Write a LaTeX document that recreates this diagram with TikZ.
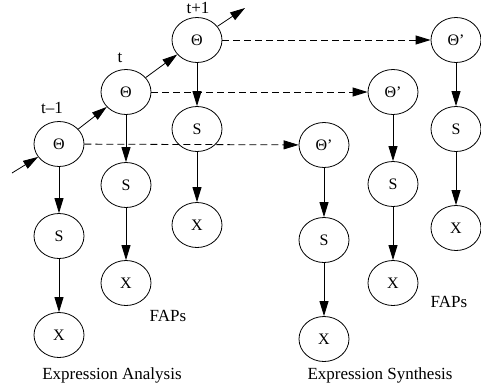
\documentclass[tikz,border=0pt]{standalone}
\usepackage{fontspec}
\setmainfont{Liberation Serif}
\usetikzlibrary{shapes.geometric,arrows.meta}
\begin{document}
\begin{tikzpicture}[x=1pt,y=-1pt,
  var/.style={draw,ellipse,line width=0.8pt,minimum width=50pt,minimum height=45pt,inner sep=0pt,
    font=\fontsize{16}{18}\selectfont},
  lbl/.style={font=\fontsize{17}{19}\selectfont,inner sep=0pt},
  arr/.style={line width=0.8pt,-{Triangle[length=15pt,width=9pt]}},
  darr/.style={arr,dash pattern=on 7pt off 4pt}]
\useasboundingbox (0,0) rectangle (481,389);

% Analysis side: three time slices
\node[var] (th1) at (59,144) {Θ};
\node[var] (s1)  at (59,236) {S};
\node[var] (x1)  at (59,335) {X};
\node[var] (th2) at (126,92) {Θ};
\node[var] (s2)  at (126,185) {S};
\node[var] (x2)  at (126,283) {X};
\node[var] (th3) at (197,40) {Θ};
\node[var] (s3)  at (197,129) {S};
\node[var] (x3)  at (197,225) {X};

% Synthesis side
\node[var] (tp1) at (324,145) {Θ’};
\node[var] (sp1) at (324,240) {S};
\node[var] (xp1) at (324,339) {X};
\node[var] (tp2) at (393,92) {Θ’};
\node[var] (sp2) at (393,184) {S};
\node[var] (xp2) at (393,283) {X};
\node[var] (tp3) at (456,40) {Θ’};
\node[var] (sp3) at (456,129) {S};
\node[var] (xp3) at (456,228) {X};

% Time labels
\node[lbl] (lt1) at (52,108) {t–1};
\node[lbl] (lt2) at (120,58) {t};
\node[lbl] (lt3) at (198,8) {t+1};

% Captions
\node[lbl] (fap1) at (168,316) {FAPs};
\node[lbl] (fap2) at (449,302) {FAPs};
\node[lbl] (capa) at (112,375) {Expression Analysis};
\node[lbl] (caps) at (380,375) {Expression Synthesis};

% Temporal chain
\coordinate (in) at (12,173);
\coordinate (out) at (245,8);
\draw[arr] (in) -- (th1);
\draw[arr] (th1) -- (th2);
\draw[arr] (th2) -- (th3);
\draw[arr] (th3) -- (out);

% Vertical dependencies
\foreach \a/\b in {th1/s1,s1/x1,th2/s2,s2/x2,th3/s3,s3/x3,
                   tp1/sp1,sp1/xp1,tp2/sp2,sp2/xp2,tp3/sp3,sp3/xp3}
  \draw[arr] (\a) -- (\b);

% Parameter transfer
\draw[darr] (th1) -- (tp1);
\draw[darr] (th2) -- (tp2);
\draw[darr] (th3) -- (tp3);
\end{tikzpicture}
\end{document}
